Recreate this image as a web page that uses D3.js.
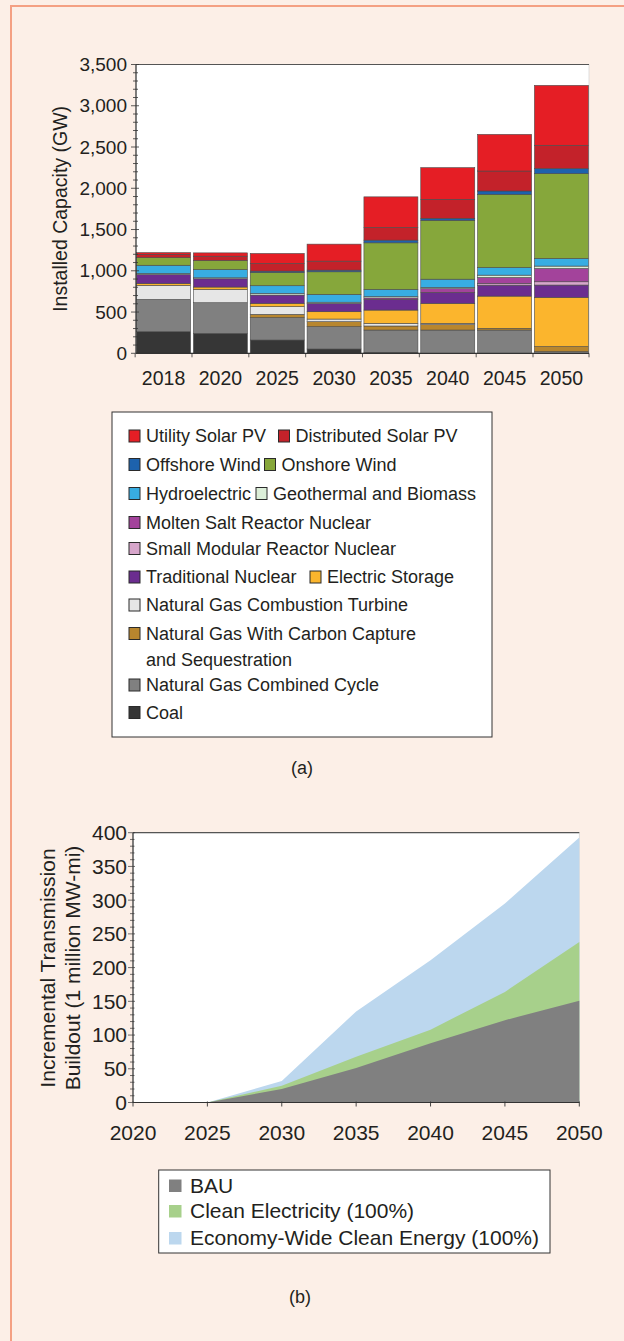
<!DOCTYPE html>
<html><head><meta charset="utf-8">
<script src="https://cdn.jsdelivr.net/npm/d3@7"></script>
<style>
html,body{margin:0;padding:0;background:#fcefe7;}
svg{display:block;font-family:"Liberation Sans",Arial,Helvetica,sans-serif;}
</style>
</head><body>
<svg id="c" width="624" height="1341"></svg>
<script>
// ---------- Data: (a) installed capacity (GW) ----------
const years = ["2018","2020","2025","2030","2035","2040","2045","2050"];
const coal         = [262, 242, 161,  52,  12,   0,   0,    0];
const ngcc         = [391, 371, 271, 271, 270, 282, 282,   20];
const ngccs        = [  0,   0,  40,  60,  49,  65,  20,   61];
const ngct         = [170, 160,  93,  32,  32,  16,   0,    0];
const storage      = [ 22,  30,  40,  89, 161, 242, 391,  597];
const tradNuclear  = [110, 100, 101, 101, 129, 133, 133,  149];
const smrNuclear   = [  0,   0,   0,   0,   0,   0,  20,   40];
const moltenSalt   = [  0,   0,   0,   0,  18,  45,  73,  161];
const geoBio       = [ 12,  12,  20,  14,  15,  15,  28,   29];
const hydro        = [100, 100,  93,  95,  88, 100,  93,   92];
const onshoreWind  = [ 93, 110, 161, 274, 565, 714, 887, 1029];
const offshoreWind = [  0,   0,  16,  20,  32,  24,  40,   61];
const distSolar    = [ 40,  52,  93, 109, 154, 230, 242,  282];
const utilSolar    = [ 20,  40, 121, 206, 371, 384, 444,  726];
const capTicks = [0,500,1000,1500,2000,2500,3000,3500];

// ---------- Data: (b) incremental transmission buildout ----------
const tYears   = [2020, 2025, 2030, 2035, 2040, 2045, 2050];
const bau      = [0, 0, 20, 51, 88, 122, 151];
const cleanEl  = [0, 0, 25, 68, 108, 164, 238];
const econWide = [0, 0, 32, 135, 211, 295, 393];
const tTicksY  = [0,50,100,150,200,250,300,350,400];
const tTicksX  = [2020,2025,2030,2035,2040,2045,2050];

// ---------- Series definitions (bottom -> top) ----------
const seriesA = [
  {name:"Coal", values:coal, color:"#363636"},
  {name:"Natural Gas Combined Cycle", values:ngcc, color:"#808080"},
  {name:"Natural Gas With Carbon Capture and Sequestration", values:ngccs, color:"#b8862e"},
  {name:"Natural Gas Combustion Turbine", values:ngct, color:"#e6e6e6"},
  {name:"Electric Storage", values:storage, color:"#fbb52d"},
  {name:"Traditional Nuclear", values:tradNuclear, color:"#6b2d8f"},
  {name:"Small Modular Reactor Nuclear", values:smrNuclear, color:"#d7a6cb"},
  {name:"Molten Salt Reactor Nuclear", values:moltenSalt, color:"#a3439b"},
  {name:"Geothermal and Biomass", values:geoBio, color:"#dcefd9"},
  {name:"Hydroelectric", values:hydro, color:"#38ade2"},
  {name:"Onshore Wind", values:onshoreWind, color:"#86a73b"},
  {name:"Offshore Wind", values:offshoreWind, color:"#1d62ad"},
  {name:"Distributed Solar PV", values:distSolar, color:"#c3222a"},
  {name:"Utility Solar PV", values:utilSolar, color:"#e51e25"}
];
const colorOf = Object.fromEntries(seriesA.map(s=>[s.name,s.color]));

const svg = d3.select("#c");
const txt = "#231f20";

// page background + frame
svg.append("rect").attr("x",0).attr("y",0).attr("width",624).attr("height",1341).attr("fill","#fcefe7");
svg.append("rect").attr("x",11).attr("y",6).attr("width",700).attr("height",1400)
  .attr("fill","none").attr("stroke","#f4a083").attr("stroke-width",2);

// ================= Chart (a) =================
const aL=136, aR=589, aT=64.5, aB=353.3;
const xA = d3.scaleBand().domain(years).range([aL,aR]).paddingInner(0.05).paddingOuter(0.01);
const yA = d3.scaleLinear().domain([0,3500]).range([aB,aT]);

svg.append("rect").attr("x",aL).attr("y",aT).attr("width",aR-aL).attr("height",aB-aT)
  .attr("fill","#ffffff").attr("stroke","#d8d8d8").attr("stroke-width",0.8);
svg.append("line").attr("x1",aL).attr("x2",aR).attr("y1",aT).attr("y2",aT).attr("stroke","#555").attr("stroke-width",1.2);

const table = years.map((y,i)=>{const o={year:y}; seriesA.forEach(s=>o[s.name]=s.values[i]); return o;});
const stacked = d3.stack().keys(seriesA.map(s=>s.name))(table);

const gBars = svg.append("g");
stacked.forEach(layer=>{
  gBars.selectAll(null).data(layer.filter(d=>d[1]-d[0]>0)).enter().append("rect")
    .attr("x",d=>xA(d.data.year)).attr("width",xA.bandwidth())
    .attr("y",d=>yA(d[1])).attr("height",d=>yA(d[0])-yA(d[1]))
    .attr("fill",colorOf[layer.key]).attr("stroke","#4a4a4a").attr("stroke-width",0.6);
});

// y axis (a)
const gyA = svg.append("g");
gyA.append("line").attr("x1",aL).attr("x2",aL).attr("y1",aT).attr("y2",aB).attr("stroke","#333").attr("stroke-width",1.2);
d3.range(0,3501,100).forEach(v=>{
  const major = v%500===0;
  gyA.append("line").attr("x1",aL-(major?5:3)).attr("x2",aL+(major?3:2))
    .attr("y1",yA(v)).attr("y2",yA(v)).attr("stroke","#333").attr("stroke-width",0.8);
});
gyA.selectAll("text").data(capTicks).enter().append("text")
  .attr("x",aL-9).attr("y",d=>yA(d)).attr("dy","0.35em").attr("text-anchor","end")
  .attr("font-size",19).attr("fill",txt).text(d3.format(","));
svg.append("text").attr("transform",`translate(60,${(aT+aB)/2}) rotate(-90)`)
  .attr("text-anchor","middle").attr("dy","0.35em").attr("font-size",19.5).attr("fill",txt)
  .text("Installed Capacity (GW)");

// x axis (a)
svg.append("line").attr("x1",aL).attr("x2",aR).attr("y1",aB).attr("y2",aB).attr("stroke","#333").attr("stroke-width",1.2);
const step = xA.step();
years.forEach((y,i)=>{
  const xb = xA(y) - xA.paddingInner()*step/2;
  svg.append("line").attr("x1",xb).attr("x2",xb).attr("y1",aB).attr("y2",aB+4).attr("stroke","#333").attr("stroke-width",0.8);
});
svg.append("line").attr("x1",aR).attr("x2",aR).attr("y1",aB).attr("y2",aB+4).attr("stroke","#333").attr("stroke-width",0.8);
svg.selectAll(".xla").data(years).enter().append("text")
  .attr("x",d=>xA(d)+xA.bandwidth()/2).attr("y",378).attr("dy","0.35em")
  .attr("text-anchor","middle").attr("font-size",19.5).attr("fill",txt).text(d=>d);

// legend (a)
svg.append("rect").attr("x",112).attr("y",412).attr("width",380).attr("height",325)
  .attr("fill","#ffffff").attr("stroke","#333").attr("stroke-width",1);
const legA = [
  {key:"Utility Solar PV", x:129, y:436},
  {key:"Distributed Solar PV", x:278.5, y:436},
  {key:"Offshore Wind", x:129, y:464.5},
  {key:"Onshore Wind", x:264.5, y:464.5},
  {key:"Hydroelectric", x:129, y:493.5},
  {key:"Geothermal and Biomass", x:256, y:493.5},
  {key:"Molten Salt Reactor Nuclear", x:129, y:522.5},
  {key:"Small Modular Reactor Nuclear", x:129, y:548.5},
  {key:"Traditional Nuclear", x:129, y:577},
  {key:"Electric Storage", x:310, y:577},
  {key:"Natural Gas Combustion Turbine", x:129, y:605},
  {key:"Natural Gas With Carbon Capture and Sequestration", x:129, y:633.5, lines:["Natural Gas With Carbon Capture","and Sequestration"]},
  {key:"Natural Gas Combined Cycle", x:129, y:685},
  {key:"Coal", x:129, y:712.5}
];
legA.forEach(it=>{
  svg.append("rect").attr("x",it.x).attr("y",it.y-6).attr("width",11).attr("height",12)
    .attr("fill",colorOf[it.key]).attr("stroke","#2a2a2a").attr("stroke-width",1);
  const lines = it.lines || [it.key];
  lines.forEach((l,j)=>{
    svg.append("text").attr("x",it.x+17).attr("y",it.y+j*26).attr("dy","0.35em")
      .attr("font-size",18).attr("fill",txt).text(l);
  });
});
svg.append("text").attr("x",302).attr("y",768).attr("dy","0.35em").attr("text-anchor","middle")
  .attr("font-size",18).attr("fill",txt).text("(a)");

// ================= Chart (b) =================
const bL=133, bR=579.3, bT=832.7, bB=1102.5;
const xB = d3.scaleLinear().domain([2020,2050]).range([bL,bR]);
const yB = d3.scaleLinear().domain([0,400]).range([bB,bT]);

svg.append("rect").attr("x",bL).attr("y",bT).attr("width",bR-bL).attr("height",bB-bT)
  .attr("fill","#ffffff").attr("stroke","#d8d8d8").attr("stroke-width",0.8);
svg.append("line").attr("x1",bL).attr("x2",bR).attr("y1",bT).attr("y2",bT).attr("stroke","#555").attr("stroke-width",1.2);

const seriesB = [
  {name:"Economy-Wide Clean Energy (100%)", values:econWide, color:"#bcd7ee"},
  {name:"Clean Electricity (100%)", values:cleanEl, color:"#a7d08b"},
  {name:"BAU", values:bau, color:"#808080"}
];
const area = d3.area().x(d=>xB(d[0])).y0(yB(0)).y1(d=>yB(d[1]));
seriesB.forEach(s=>{
  svg.append("path").datum(tYears.map((y,i)=>[y,s.values[i]]))
    .attr("d",area).attr("fill",s.color);
});

// y axis (b)
svg.append("line").attr("x1",bL).attr("x2",bL).attr("y1",bT).attr("y2",bB).attr("stroke","#333").attr("stroke-width",1.2);
d3.range(0,401,10).forEach(v=>{
  const major = v%50===0;
  svg.append("line").attr("x1",bL-(major?5:3)).attr("x2",bL+(major?2:1.5))
    .attr("y1",yB(v)).attr("y2",yB(v)).attr("stroke","#333").attr("stroke-width",0.7);
});
svg.selectAll(".ylb").data(tTicksY).enter().append("text")
  .attr("x",bL-6).attr("y",d=>yB(d)).attr("dy","0.35em").attr("text-anchor","end")
  .attr("font-size",21).attr("fill",txt).text(d=>d);
const tTitle = svg.append("text").attr("transform",`translate(48,968) rotate(-90)`)
  .attr("text-anchor","middle").attr("font-size",21).attr("fill",txt);
tTitle.append("tspan").attr("x",0).attr("dy","0.35em").text("Incremental Transmission");
tTitle.append("tspan").attr("x",0).attr("dy",25).text("Buildout (1 million MW-mi)");

// x axis (b)
svg.append("line").attr("x1",bL).attr("x2",bR).attr("y1",bB).attr("y2",bB).attr("stroke","#333").attr("stroke-width",1.2);
tTicksX.forEach(t=>{
  svg.append("line").attr("x1",xB(t)).attr("x2",xB(t)).attr("y1",bB-1).attr("y2",bB+4).attr("stroke","#333").attr("stroke-width",0.9);
});
svg.selectAll(".xlb").data(tTicksX).enter().append("text")
  .attr("x",d=>xB(d)).attr("y",1133).attr("dy","0.35em").attr("text-anchor","middle")
  .attr("font-size",21).attr("fill",txt).text(d=>d);

// legend (b)
svg.append("rect").attr("x",158.7).attr("y",1170).attr("width",391.3).attr("height",83)
  .attr("fill","#ffffff").attr("stroke","#333").attr("stroke-width",1);
const legB = [
  {s:seriesB[2], y:1185.5},
  {s:seriesB[1], y:1211},
  {s:seriesB[0], y:1238}
];
legB.forEach(it=>{
  svg.append("rect").attr("x",169).attr("y",it.y-6).attr("width",12.5).attr("height",12.5).attr("fill",it.s.color);
  svg.append("text").attr("x",190).attr("y",it.y).attr("dy","0.35em")
    .attr("font-size",21).attr("fill",txt).text(it.s.name);
});
svg.append("text").attr("x",300).attr("y",1297).attr("dy","0.35em").attr("text-anchor","middle")
  .attr("font-size",18).attr("fill",txt).text("(b)");
</script>
</body></html>
